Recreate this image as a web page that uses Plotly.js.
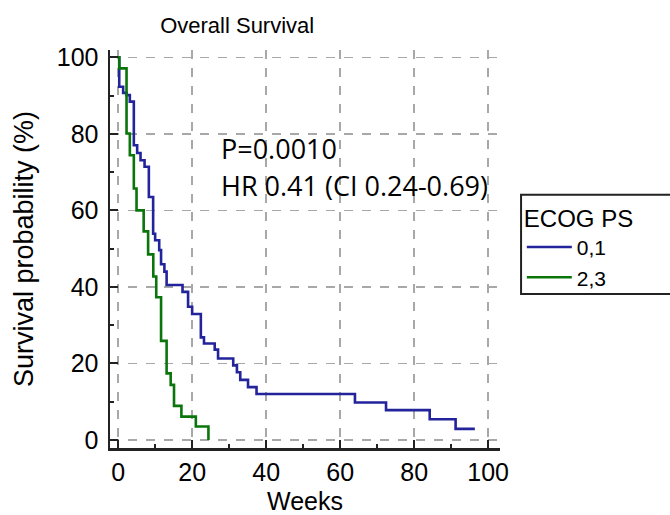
<!DOCTYPE html>
<html>
<head>
<meta charset="utf-8">
<script src="https://cdn.plot.ly/plotly-3.0.1.min.js"></script>
<style>html,body{margin:0;padding:0;background:#fff;}#chart{width:670px;height:515px;}</style>
</head>
<body>
<div id="chart"></div>
<script>
// Kaplan-Meier step data (weeks, survival %)
const weeksECOG01 = [0, 0.3, 1.35, 2.27, 3.16, 4.24, 5.14, 6.05, 7.14, 8.3, 9.46, 10.0, 11.1, 11.6, 12.5, 13.1, 17.4, 18.9, 20.0, 22.35, 23.2, 26.1, 27.0, 31.1, 32.1, 33.0, 35.1, 37.4, 64.0, 72.4, 84.2, 91.2, 96.4];
const survECOG01  = [100, 92.3, 90.7, 90.1, 88.4, 77.0, 75.0, 73.1, 71.4, 63.5, 53.9, 52.2, 49.6, 45.9, 44.0, 40.5, 38.7, 34.8, 32.9, 26.8, 25.2, 23.6, 21.3, 19.5, 17.7, 15.7, 13.8, 12.0, 9.8, 7.8, 5.4, 2.9, 2.9];
const weeksECOG23 = [0, 0.3, 2.27, 3.16, 4.24, 4.97, 6.9, 8.1, 9.5, 10.3, 11.6, 13.1, 14.2, 15.1, 17.1, 21.0, 24.4];
const survECOG23  = [100, 97.1, 80.1, 74.4, 65.7, 60.0, 54.5, 48.5, 42.7, 37.3, 25.9, 17.4, 14.4, 8.9, 6.1, 3.5, 0];
const seriesNames = ["0,1", "2,3"];
const xTicks = [0, 20, 40, 60, 80, 100];
const yTicks = [0, 20, 40, 60, 80, 100];
const chartTitle = "Overall Survival";
const xTitle = "Weeks";
const yTitle = "Survival probability (%)";
const legendTitle = "ECOG PS";
const pText = "P=0.0010";
const hrText = "HR 0.41 (CI 0.24-0.69)";

const SANS = "Liberation Sans, Arial, sans-serif";
const AX_FONT = {family: SANS, size: 25, color: "#000"};

const traces = [
  {x: weeksECOG01, y: survECOG01, name: seriesNames[0], type: "scatter", mode: "lines",
   line: {shape: "hv", color: "#23239c", width: 2.6}},
  {x: weeksECOG23, y: survECOG23, name: seriesNames[1], type: "scatter", mode: "lines",
   line: {shape: "hv", color: "#0a750a", width: 2.6}}
];

const axisCommon = {
  showline: true, linecolor: "#222", linewidth: 2.5,
  ticks: "inside", ticklen: 8, tickwidth: 2, tickcolor: "#222",
  showgrid: true, gridcolor: "#a8a8a8", gridwidth: 1.5, griddash: "dash",
  zeroline: false, tickfont: AX_FONT, mirror: false,
  minor: {ticks: "inside", ticklen: 4, tickwidth: 2, tickcolor: "#222", dtick: 10, showgrid: false}
};

const layout = {
  width: 670, height: 515,
  margin: {l: 110, r: 170, t: 50, b: 67},
  paper_bgcolor: "#fff", plot_bgcolor: "#fff",
  title: {text: chartTitle, font: {family: SANS, size: 22, color: "#000"},
          x: 0.354, xanchor: "center", xref: "container", y: 0.951, yref: "container", yanchor: "middle"},
  xaxis: Object.assign({}, axisCommon, {
    range: [-2.2, 103.2], tickvals: xTicks, ticktext: xTicks.map(String), ticklabelstandoff: 0,
    title: {text: xTitle, font: {family: SANS, size: 25, color: "#000"}, standoff: 22}
  }),
  yaxis: Object.assign({}, axisCommon, {
    range: [-2.1, 101.9], tickvals: yTicks, ticktext: yTicks.map(String), ticklabelstandoff: 4,
    title: {text: yTitle, font: {family: SANS, size: 27, color: "#000"}, standoff: 16}
  }),
  showlegend: true,
  legend: {
    title: {text: legendTitle, font: {family: SANS, size: 24, color: "#000"}},
    font: {family: SANS, size: 21, color: "#000"},
    x: 1.056, xanchor: "left", y: 0.634, yanchor: "top",
    borderwidth: 0, bgcolor: "rgba(0,0,0,0)",
    itemwidth: 45, tracegroupgap: 0
  },
  shapes: [
    {type: "rect", xref: "paper", yref: "paper", x0: 1.054, x1: 1.46, y0: 0.387, y1: 0.636,
     line: {color: "#222", width: 2}, fillcolor: "rgba(0,0,0,0)", layer: "below"}
  ],
  annotations: [
    {x: 27.3, y: 76.2, xref: "x", yref: "y", text: pText, showarrow: false, xanchor: "left", yanchor: "middle",
     font: {family: "Open Sans, Noto Sans, sans-serif", size: 27, color: "#000"}},
    {x: 27.3, y: 66.6, xref: "x", yref: "y", text: hrText, showarrow: false, xanchor: "left", yanchor: "middle",
     font: {family: "Open Sans, Noto Sans, sans-serif", size: 27, color: "#000"}}
  ]
};

Plotly.newPlot("chart", traces, layout, {displayModeBar: false, staticPlot: true});
</script>
</body>
</html>
